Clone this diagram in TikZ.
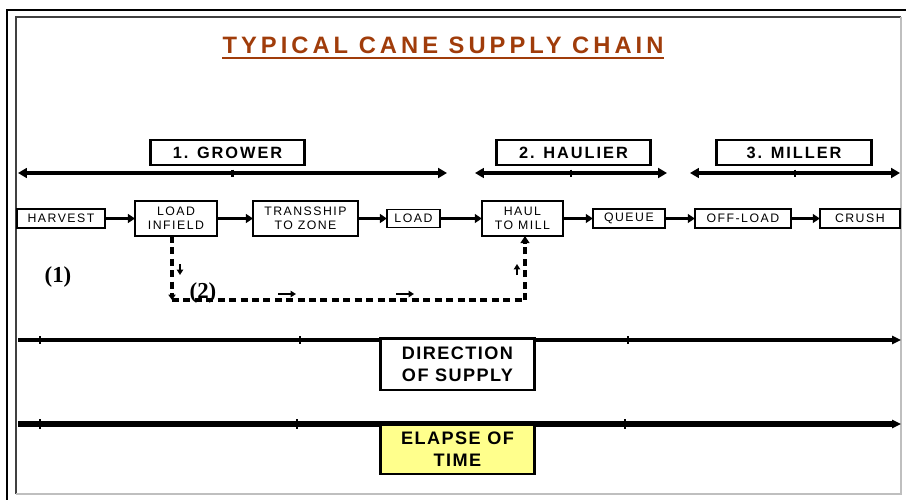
\documentclass[tikz,border=0pt]{standalone}
\usepackage{fontspec}
\setmainfont{Liberation Sans}
\newfontfamily\widefont[LetterSpace=12]{Liberation Sans}
\newfontfamily\titlefont[LetterSpace=17]{Liberation Sans}
\newfontfamily\boxfont[LetterSpace=8]{Liberation Sans}
\newfontfamily\numfont{Liberation Serif}
\usepackage{tikz}
\usetikzlibrary{positioning}
\usetikzlibrary{arrows.meta,calc}
\definecolor{titlebrown}{RGB}{160,60,10}
\definecolor{paleyellow}{RGB}{255,255,140}
\tikzstyle{novertex} = [draw=none, fill=none, text centered]
\tikzstyle{stage} = [rectangle, draw, line width=1.7pt, minimum width=3.1cm, minimum height=0.5cm, inner sep=0pt, font=\widefont\bfseries\fontsize{9.3}{10}\selectfont]
\tikzstyle{activity} = [rectangle, draw, line width=0.9pt, inner sep=0pt, outer sep=0pt, align=center, font=\widefont\fontsize{7}{7.8}\selectfont]
\tikzstyle{axislabel} = [rectangle, draw, line width=1.7pt, fill=white, minimum width=3.1cm, align=center, font=\boxfont\bfseries\fontsize{10.3}{12.5}\selectfont]
\tikzstyle{flow} = [draw, line width=1.8pt, -{Triangle[length=4pt,width=5pt]}]
\tikzstyle{span} = [draw, line width=2.2pt, {Triangle[length=5pt,width=5.5pt]}-{Triangle[length=5pt,width=5.5pt]}]
\tikzstyle{route} = [draw, line width=2pt, dash pattern=on 4pt off 2.5pt]
\tikzstyle{hint} = [draw, line width=1.6pt, -{Triangle[length=3pt,width=3.5pt]}]
\tikzstyle{timeline} = [draw, line width=1.9pt, -{Triangle[length=5pt,width=4.5pt]}]

\begin{document}
\begin{tikzpicture}[x=0.02cm, y=-0.02cm, node distance=0.6cm]
	\useasboundingbox (0,0) rectangle (906,500);
	% frame
	\draw[line width=1pt] (7,500) -- (7,10) -- (906,10);
	\draw[line width=1.2pt, black!75] (16,494) -- (16,17) -- (901,17);
	\draw[line width=1.5pt, black!25] (901,17) -- (901,494) -- (16,494);

	% title node
	\node [novertex, inner sep=0pt, text=titlebrown, font=\titlefont\bfseries\fontsize{13.5}{15}\selectfont] (T0) at (443,45) {TYPICAL CANE SUPPLY CHAIN};
	\draw [titlebrown, line width=1.2pt] ([yshift=-2.5pt]T0.south west) -- ([yshift=-2.5pt]T0.south east);

	% stages
	\node [stage] (S1) at (227.5,152.5) {1. GROWER};
	\node [stage] (S2) at (573.5,152.5) {2. HAULIER};
	\node [stage] (S3) at (794,152.5) {3. MILLER};
	\coordinate (G1) at (18,173);  \coordinate (G2) at (447,173);
	\coordinate (H1) at (475,173); \coordinate (H2) at (667,173);
	\coordinate (M1) at (690,173); \coordinate (M2) at (900,173);
	\path [span] (G1) -- (G2);
	\path [span] (H1) -- (H2);
	\path [span] (M1) -- (M2);
	\foreach \a/\b in {G1/G2,H1/H2,M1/M2}
		\draw [line width=1.3pt] ($(\a)!0.5!(\b)$) ++(0,-3.5) -- ++(0,7);

	% place nodes
	\node [activity, minimum width=1.76cm, minimum height=0.38cm] (N1) at (61,218.5) {HARVEST};
	\node [activity, minimum width=1.64cm, minimum height=0.7cm, right=of N1] (N2) {LOAD\\INFIELD};
	\node [activity, minimum width=2.1cm, minimum height=0.7cm, right=0.72cm of N2] (N3) {TRANSSHIP\\TO ZONE};
	\node [activity, minimum width=1.06cm, minimum height=0.36cm, right=0.58cm of N3] (N4) {LOAD};
	\node [activity, minimum width=1.62cm, minimum height=0.7cm, right=0.84cm of N4] (N5) {HAUL\\TO MILL};
	\node [activity, minimum width=1.44cm, minimum height=0.38cm, right=of N5] (N6) {QUEUE};
	\node [activity, minimum width=1.92cm, minimum height=0.38cm, right=of N6] (N7) {OFF-LOAD};
	\node [activity, minimum width=1.6cm, minimum height=0.38cm, right=0.58cm of N7] (N8) {CRUSH};

	% draw edges
	\path [flow] (N1) -- (N2);
	\path [flow] (N2) -- (N3);
	\path [flow] (N3) -- (N4);
	\path [flow] (N4) -- (N5);
	\path [flow] (N5) -- (N6);
	\path [flow] (N6) -- (N7);
	\path [flow] (N7) -- (N8);

	% second route
	\coordinate (C1) at (172,300);
	\coordinate (C2) at (525,300);
	\path [route, -{Triangle[length=3pt,width=4pt]}] (N2.south -| C1) -- (C1);
	\path [route] (C1) -- (C2);
	\path [route, -{Triangle[length=4pt,width=5pt]}] (C2) -- (N5.south -| C2);
	\draw [hint] (180,264) -- ++(0,11);
	\draw [hint] (278,294) -- ++(18,0);
	\draw [hint] (396,294) -- ++(18,0);
	\draw [hint] (517,275) -- ++(0,-11);
	\node [novertex, font=\numfont\bfseries\fontsize{13}{15}\selectfont] (L1) at (58,277) {(1)};
	\node [novertex, font=\numfont\bfseries\fontsize{13}{15}\selectfont] (L2) at (203,293) {(2)};

	% time lines
	\coordinate (D0) at (18,340); \coordinate (D1) at (901,340);
	\coordinate (E0) at (18,424); \coordinate (E1) at (901,424);
	\path [timeline] (D0) -- (D1);
	\path [timeline, line width=3pt] (E0) -- (E1);
	\foreach \x in {40,300,628}
		\draw [line width=1.3pt] (\x,336) -- (\x,344);
	\foreach \x in {40,297,625}
		\draw [line width=1.3pt] (\x,419) -- (\x,429);
	\node [axislabel, minimum height=1.04cm] (B1) at (457.5,364) {DIRECTION\\OF SUPPLY};
	\node [axislabel, minimum height=1cm, fill=paleyellow] (B2) at (457.5,449) {ELAPSE OF\\TIME};
\end{tikzpicture}
\end{document}
